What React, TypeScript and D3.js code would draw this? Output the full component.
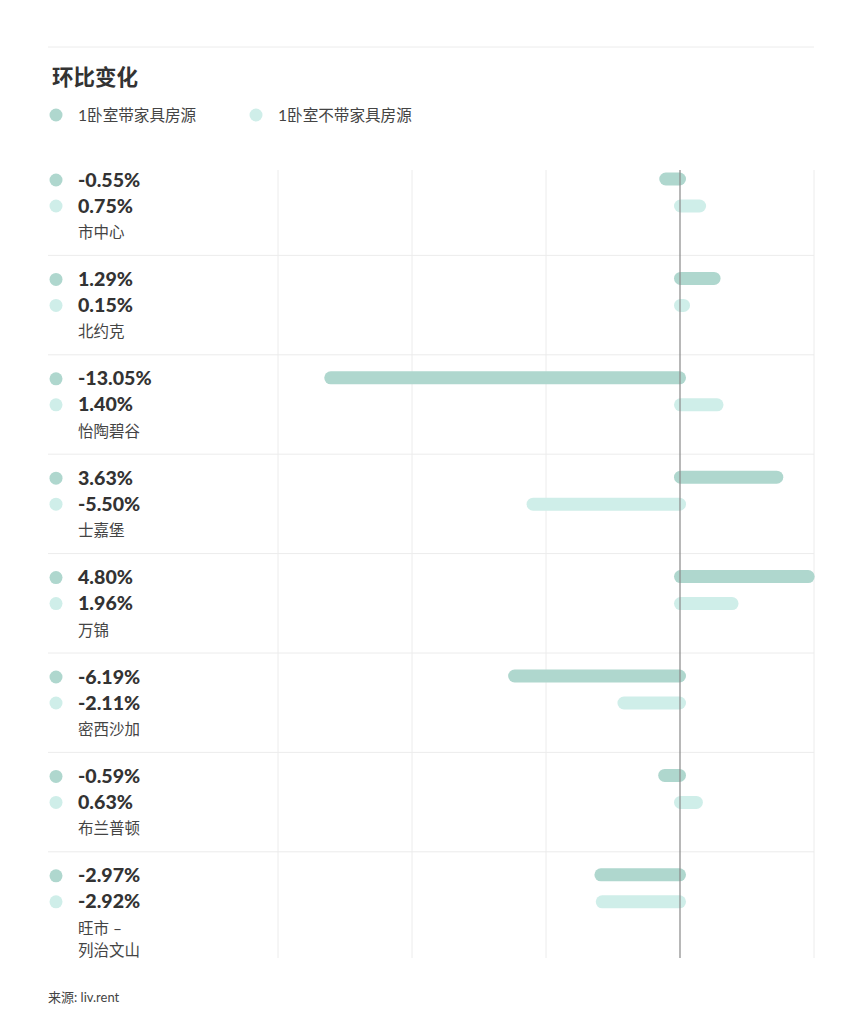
import React from "react";
import * as d3 from "d3";

const districts = ["市中心", "北约克", "怡陶碧谷", "士嘉堡", "万锦", "密西沙加", "布兰普顿", "旺市 –\n列治文山"];
const furnished = [-0.55, 1.29, -13.05, 3.63, 4.8, -6.19, -0.59, -2.97];
const unfurnished = [0.75, 0.15, 1.4, -5.5, 1.96, -2.11, 0.63, -2.92];
const gridTicks = [-15, -10, -5, 0, 5];
const seriesNames = ["1卧室带家具房源", "1卧室不带家具房源"];

const W = 862;
const H = 1024;
const C1 = "#afd7ce";
const C2 = "#cfeee9";
const FONT = "Lato, 'Noto Sans CJK SC', sans-serif";

export default function App() {
  const x = d3.scaleLinear().domain([-15, 5]).range([278, 814]);
  const rowTop = 156;
  const rowH = 99.4;
  const y = d3.scaleBand<number>().domain(d3.range(districts.length)).range([rowTop, rowTop + rowH * districts.length]);
  const fmt = (v: number) => v.toFixed(2) + "%";
  const cap = 6;
  const bar = (v: number, cy: number, color: string, key: string) => {
    const x0 = x(Math.min(0, v)) - cap;
    const x1 = x(Math.max(0, v)) + cap;
    return <rect key={key} x={x0} y={cy - 6.5} width={x1 - x0} height={13} rx={6.5} fill={color} />;
  };
  const gridTop = 170;
  const gridBottom = 958;
  return (
    <svg width={W} height={H} style={{ position: "absolute", left: 0, top: 0, background: "#fff" }} fontFamily={FONT}>
      <line x1={48} x2={814} y1={47} y2={47} stroke="#ececec" />
      <text x={52} y={85} fontSize={21.5} fontWeight={700} fill="#333">环比变化</text>
      {seriesNames.map((n, i) => (
        <g key={n}>
          <circle cx={i === 0 ? 56 : 256} cy={115} r={6.5} fill={i === 0 ? C1 : C2} />
          <text x={i === 0 ? 78 : 278} y={120.5} fontSize={15.6} fill="#444">{n}</text>
        </g>
      ))}
      {gridTicks.filter((t) => t !== 0).map((t) => (
        <line key={t} x1={x(t)} x2={x(t)} y1={gridTop} y2={gridBottom} stroke="#ececec" />
      ))}
      {districts.map((d, i) => {
        const top = y(i) as number;
        const c1 = top + 24;
        const c2 = top + 50;
        return (
          <g key={d}>
            {i > 0 && <line x1={48} x2={814} y1={top} y2={top} stroke="#ececec" />}
            <circle cx={56} cy={c1} r={6.5} fill={C1} />
            <circle cx={56} cy={c2} r={6.5} fill={C2} />
            <text x={78} y={c1 + 6.5} fontSize={19.6} fontWeight={900} fill="#333">{fmt(furnished[i])}</text>
            <text x={78} y={c2 + 6.5} fontSize={19.6} fontWeight={900} fill="#333">{fmt(unfurnished[i])}</text>
            {d.split("\n").map((line, j) => (
              <text key={j} x={78} y={c2 + 32 + j * 22} fontSize={15.5} fill="#444">{line}</text>
            ))}
            {bar(furnished[i], c1 - 1, C1, "b1")}
            {bar(unfurnished[i], c2, C2, "b2")}
          </g>
        );
      })}
      <line x1={x(0)} x2={x(0)} y1={gridTop} y2={gridBottom} stroke="#888" strokeWidth={1.2} />
      <text x={48} y={1002} fontSize={13} fill="#444">来源: liv.rent</text>
    </svg>
  );
}
